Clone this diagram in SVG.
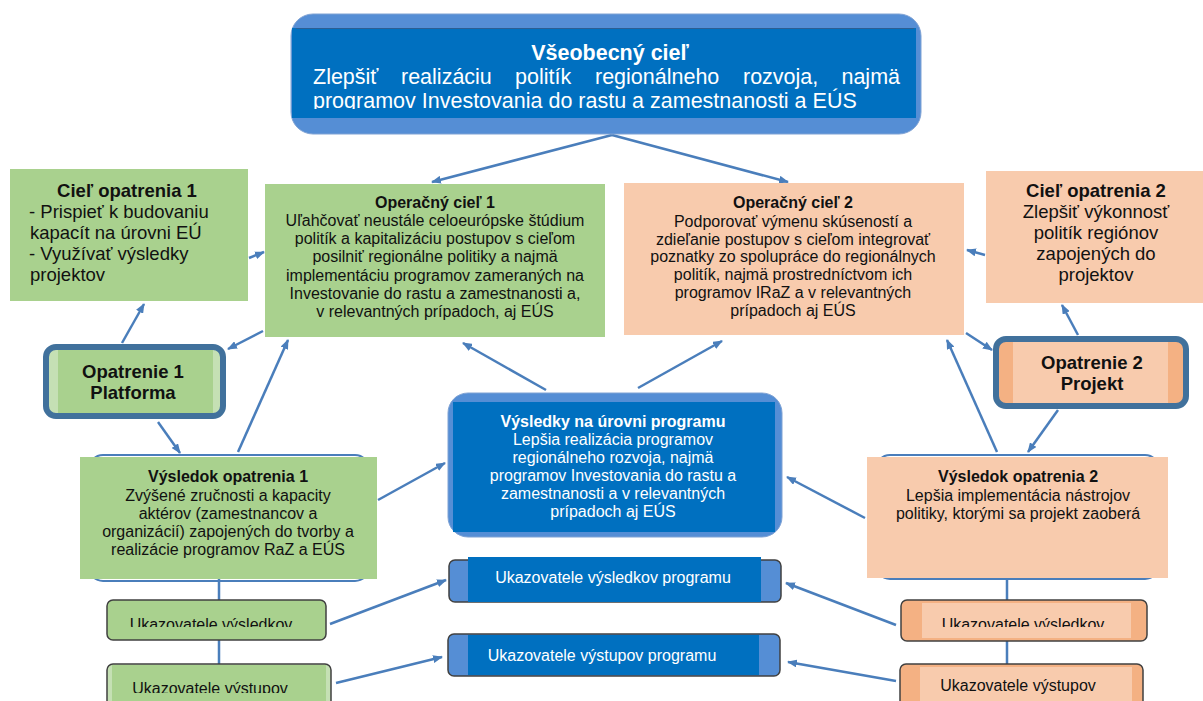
<svg xmlns="http://www.w3.org/2000/svg" width="1203" height="701" viewBox="0 0 1203 701">
<style>
text{font-family:"Liberation Sans",Arial,sans-serif;}
.t16{font-size:16px;fill:#111;text-anchor:middle;}
.w16{font-size:16px;fill:#fff;text-anchor:middle;}
.b{font-weight:bold;}
.t18{font-size:18.5px;fill:#111;}
.green{fill:#A9D18E;}
.peach{fill:#F8CBAD;}
.conn{stroke:#4A7EBB;stroke-width:2.5;fill:none;marker-end:url(#ah);}
.plain{stroke:#4A7EBB;stroke-width:2.5;fill:none;}
.ind{stroke:#404040;stroke-width:1.5;}
</style>
<defs>
<marker id="ah" viewBox="0 0 10 8" refX="9" refY="4" markerWidth="10" markerHeight="8" markerUnits="userSpaceOnUse" orient="auto">
<path d="M0,0 L10,4 L0,8 z" fill="#4A7EBB"/>
</marker>
<clipPath id="clipTop"><rect x="290" y="28" width="630" height="81"/></clipPath>
<clipPath id="clipInd1"><rect x="100" y="600" width="240" height="27"/></clipPath>
<clipPath id="clipInd2"><rect x="100" y="664" width="240" height="29"/></clipPath>
<clipPath id="clipInd3"><rect x="900" y="600" width="250" height="27"/></clipPath>
</defs>
<rect width="1203" height="701" fill="#fff"/>

<g id="connectors">
<path class="conn" d="M612,135 L432,182"/>
<path class="conn" d="M612,135 L788,182"/>
<path class="conn" d="M249,258 L264,252"/>
<path class="conn" d="M263,331 L228,349"/>
<path class="conn" d="M122,343 L144,304"/>
<path class="conn" d="M158,422 L180,453"/>
<path class="conn" d="M238,452 L288,340"/>
<path class="conn" d="M546,390 L463,343"/>
<path class="conn" d="M638,388 L722,341"/>
<path class="conn" d="M378,500 L445,463"/>
<path class="conn" d="M865,518 L787,477"/>
<path class="conn" d="M966,333 L992,350"/>
<path class="conn" d="M1078,335 L1062,305"/>
<path class="conn" d="M985,255 L967,250"/>
<path class="conn" d="M1058,410 L1028,452"/>
<path class="conn" d="M997,452 L947,340"/>
<path class="conn" d="M330,624 L446,580"/>
<path class="conn" d="M336,683 L442,657"/>
<path class="conn" d="M896,625 L786,583"/>
<path class="conn" d="M896,681 L788,662"/>
<path class="plain" d="M219,578 L219,600 M219,640 L219,664 M1007,578 L1007,600 M1007,641 L1007,664"/>
</g>

<g id="vseobecny-ciel">
<rect x="291" y="14" width="630" height="120" rx="22" fill="#558ED5" stroke="#7FA2D4" stroke-width="1"/>
<rect x="292" y="28" width="624" height="90" fill="#0070C0"/>
<line x1="296" y1="28.5" x2="914" y2="28.5" stroke="#2B5F93" stroke-width="1"/>
<g clip-path="url(#clipTop)" fill="#fff" font-size="21.5px">
<text x="610" y="60" text-anchor="middle" font-weight="bold">Všeobecný cieľ</text>
<text y="84"><tspan x="313">Zlepšiť</tspan><tspan x="401">realizáciu</tspan><tspan x="515">politík</tspan><tspan x="595">regionálneho</tspan><tspan x="743">rozvoja,</tspan></text>
<text x="900" y="84" text-anchor="end">najmä</text>
<text x="313" y="108">programov Investovania do rastu a zamestnanosti a EÚS</text>
</g>
</g>

<g id="ciel-opatrenia-1">
<rect class="green" x="10" y="169" width="238" height="132"/>
<text class="t18 b" x="127" y="197" text-anchor="middle">Cieľ opatrenia 1</text>
<text class="t18" x="29" y="218">- Prispieť k budovaniu</text>
<text class="t18" x="30" y="239">kapacít na úrovni EÚ</text>
<text class="t18" x="29" y="260">- Využívať výsledky</text>
<text class="t18" x="30" y="281">projektov</text>
</g>

<g id="operacny-ciel-1">
<rect class="green" x="265" y="184" width="340" height="153"/>
<text class="t16 b" x="435" y="208">Operačný cieľ 1</text>
<text class="t16" x="435" y="226">Uľahčovať neustále celoeurópske štúdium</text>
<text class="t16" x="435" y="244">politík a kapitalizáciu postupov s cieľom</text>
<text class="t16" x="435" y="262">posilniť regionálne politiky a najmä</text>
<text class="t16" x="435" y="281">implementáciu programov zameraných na</text>
<text class="t16" x="435" y="299">Investovanie do rastu a zamestnanosti a,</text>
<text class="t16" x="435" y="317">v relevantných prípadoch, aj EÚS</text>
</g>

<g id="operacny-ciel-2">
<rect class="peach" x="624" y="183" width="340" height="152"/>
<text class="t16 b" x="793" y="208">Operačný cieľ 2</text>
<text class="t16" x="793" y="227">Podporovať výmenu skúseností a</text>
<text class="t16" x="793" y="245">zdieľanie postupov s cieľom integrovať</text>
<text class="t16" x="793" y="262">poznatky zo spolupráce do regionálnych</text>
<text class="t16" x="793" y="280">politík, najmä prostredníctvom ich</text>
<text class="t16" x="793" y="298">programov IRaZ a v relevantných</text>
<text class="t16" x="793" y="316">prípadoch aj EÚS</text>
</g>

<g id="ciel-opatrenia-2">
<rect class="peach" x="986" y="171" width="217" height="132"/>
<text class="t18 b" x="1096" y="197" text-anchor="middle">Cieľ opatrenia 2</text>
<text class="t18" x="1096" y="218" text-anchor="middle">Zlepšiť výkonnosť</text>
<text class="t18" x="1096" y="239" text-anchor="middle">politík regiónov</text>
<text class="t18" x="1096" y="260" text-anchor="middle">zapojených do</text>
<text class="t18" x="1096" y="281" text-anchor="middle">projektov</text>
</g>

<g id="opatrenie-1">
<rect x="46" y="347" width="177" height="69" rx="10" fill="#C5E0B4" stroke="#41719C" stroke-width="6"/>
<rect class="green" x="58" y="350" width="155" height="63"/>
<text class="t18 b" x="133" y="378" text-anchor="middle">Opatrenie 1</text>
<text class="t18 b" x="133" y="399" text-anchor="middle">Platforma</text>
</g>

<g id="opatrenie-2">
<rect x="996" y="339" width="190" height="67" rx="10" fill="#F4B183" stroke="#41719C" stroke-width="6"/>
<rect class="peach" x="1013" y="342" width="155" height="61"/>
<text class="t18 b" x="1092" y="369" text-anchor="middle">Opatrenie 2</text>
<text class="t18 b" x="1092" y="390" text-anchor="middle">Projekt</text>
</g>

<g id="vysledky-programu">
<rect x="448" y="393" width="334" height="144" rx="20" fill="#558ED5" stroke="#7FA2D4" stroke-width="1"/>
<rect x="453" y="402" width="322" height="130" fill="#0070C0"/>
<text class="w16 b" x="613" y="427">Výsledky na úrovni programu</text>
<text class="w16" x="613" y="445">Lepšia realizácia programov</text>
<text class="w16" x="613" y="463">regionálneho rozvoja, najmä</text>
<text class="w16" x="613" y="481">programov Investovania do rastu a</text>
<text class="w16" x="613" y="499">zamestnanosti a v relevantných</text>
<text class="w16" x="613" y="517">prípadoch aj EÚS</text>
</g>

<g id="vysledok-opatrenia-1">
<rect x="89" y="455" width="280" height="126" rx="14" fill="none" stroke="#4A7EBB" stroke-width="2"/>
<rect class="green" x="80" y="457" width="297" height="122"/>
<text class="t16 b" x="228" y="482">Výsledok opatrenia 1</text>
<text class="t16" x="228" y="501">Zvýšené zručnosti a kapacity</text>
<text class="t16" x="228" y="519">aktérov (zamestnancov a</text>
<text class="t16" x="228" y="537">organizácií) zapojených do tvorby a</text>
<text class="t16" x="228" y="555">realizácie programov RaZ a EÚS</text>
</g>

<g id="vysledok-opatrenia-2">
<rect x="876" y="455" width="283" height="124" rx="14" fill="none" stroke="#4A7EBB" stroke-width="2"/>
<rect class="peach" x="867" y="457" width="301" height="121"/>
<text class="t16 b" x="1018" y="482">Výsledok opatrenia 2</text>
<text class="t16" x="1018" y="501">Lepšia implementácia nástrojov</text>
<text class="t16" x="1018" y="519">politiky, ktorými sa projekt zaoberá</text>
</g>

<g id="ukazovatele-vysledkov-programu">
<rect class="ind" x="449" y="560" width="332" height="42" rx="6" fill="#558ED5"/>
<rect x="468" y="557" width="293" height="45" fill="#0070C0"/>
<text class="w16" x="613" y="583">Ukazovatele výsledkov programu</text>
</g>

<g id="ukazovatele-vystupov-programu">
<rect class="ind" x="448" y="634" width="332" height="42" rx="6" fill="#558ED5"/>
<rect x="468" y="635" width="291" height="40" fill="#0070C0"/>
<text class="w16" x="602" y="661">Ukazovatele výstupov programu</text>
</g>

<g id="ukazovatele-vysledkov-1">
<rect class="ind green" x="107" y="600" width="219" height="40" rx="6"/>
<text class="t16" x="211" y="630" clip-path="url(#clipInd1)">Ukazovatele výsledkov</text>
</g>

<g id="ukazovatele-vystupov-1">
<rect class="ind" x="107" y="664" width="224" height="50" rx="6" fill="#C5E0B4"/>
<rect class="green" x="112" y="665" width="214" height="40"/>
<text class="t16" x="210" y="694" clip-path="url(#clipInd2)">Ukazovatele výstupov</text>
</g>

<g id="ukazovatele-vysledkov-2">
<rect class="ind" x="901" y="600" width="246" height="41" rx="6" fill="#F4B183"/>
<rect class="peach" x="922" y="603" width="209" height="35"/>
<text class="t16" x="1023" y="630" clip-path="url(#clipInd3)">Ukazovatele výsledkov</text>
</g>

<g id="ukazovatele-vystupov-2">
<rect class="ind" x="900" y="664" width="243" height="50" rx="6" fill="#F4B183"/>
<rect class="peach" x="920" y="667" width="212" height="40"/>
<text class="t16" x="1018" y="691">Ukazovatele výstupov</text>
</g>
</svg>
